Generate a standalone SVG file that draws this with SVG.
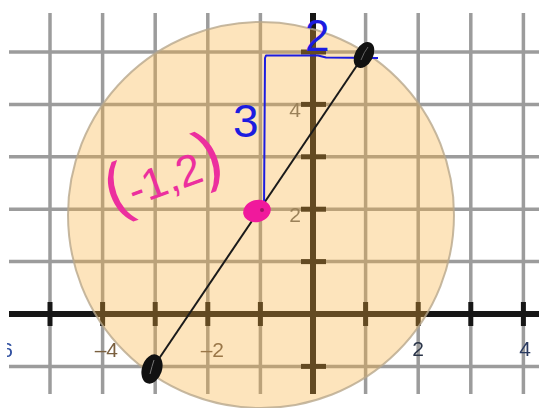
<svg xmlns="http://www.w3.org/2000/svg" width="539" height="408" viewBox="0 0 539 408">
  <defs>
    <clipPath id="leftclip"><rect x="7" y="330" width="20" height="40"/></clipPath>
    <filter id="soft" x="-5%" y="-5%" width="110%" height="110%"><feGaussianBlur stdDeviation="0.6"/></filter>
  </defs>
  <style>
    .grid { stroke: #9c9c9c; stroke-width: 3.5; fill: none; }
    .axis { stroke: #141414; stroke-width: 6; fill: none; }
    .tick { stroke: #141414; stroke-width: 5; }
    .lab { font-family: "Liberation Sans", Arial, sans-serif; font-size: 21px; }
    .hand { font-family: "Liberation Sans", Arial, sans-serif; }
  </style>
  <rect x="0" y="0" width="539" height="408" fill="#ffffff"/>

  <g id="grid" filter="url(#soft)">
    <g class="grid">
      <line x1="50" y1="13" x2="50" y2="394"/>
      <line x1="102.6" y1="13" x2="102.6" y2="394"/>
      <line x1="155.2" y1="13" x2="155.2" y2="394"/>
      <line x1="207.8" y1="13" x2="207.8" y2="394"/>
      <line x1="260.4" y1="13" x2="260.4" y2="394"/>
      <line x1="365.6" y1="13" x2="365.6" y2="394"/>
      <line x1="418.2" y1="13" x2="418.2" y2="394"/>
      <line x1="470.8" y1="13" x2="470.8" y2="394"/>
      <line x1="523.4" y1="13" x2="523.4" y2="394"/>
      <line x1="9" y1="52" x2="539" y2="52"/>
      <line x1="9" y1="104.4" x2="539" y2="104.4"/>
      <line x1="9" y1="156.8" x2="539" y2="156.8"/>
      <line x1="9" y1="209.2" x2="539" y2="209.2"/>
      <line x1="9" y1="261.6" x2="539" y2="261.6"/>
      <line x1="9" y1="366.4" x2="539" y2="366.4"/>
    </g>
    <g id="axes">
      <line class="axis" x1="9" y1="314" x2="539" y2="314"/>
      <line class="axis" x1="313" y1="13" x2="313" y2="394" stroke-width="7"/>
      <g class="tick">
        <line x1="50" y1="302" x2="50" y2="326"/>
        <line x1="102.6" y1="302" x2="102.6" y2="326"/>
        <line x1="155.2" y1="302" x2="155.2" y2="326"/>
        <line x1="207.8" y1="302" x2="207.8" y2="326"/>
        <line x1="260.4" y1="302" x2="260.4" y2="326"/>
        <line x1="365.6" y1="302" x2="365.6" y2="326"/>
        <line x1="418.2" y1="302" x2="418.2" y2="326"/>
        <line x1="470.8" y1="302" x2="470.8" y2="326"/>
        <line x1="523.4" y1="302" x2="523.4" y2="326"/>
        <line x1="301" y1="52" x2="326" y2="52"/>
        <line x1="301" y1="104.4" x2="326" y2="104.4"/>
        <line x1="301" y1="156.8" x2="326" y2="156.8"/>
        <line x1="301" y1="209.2" x2="326" y2="209.2"/>
        <line x1="301" y1="261.6" x2="326" y2="261.6"/>
        <line x1="301" y1="366.4" x2="326" y2="366.4"/>
      </g>
    </g>
    <g id="axis-labels" class="lab">
      <text x="13" y="357" text-anchor="end" fill="#3050a0" clip-path="url(#leftclip)">6</text>
      <text x="118" y="357" text-anchor="end" fill="#7a6040">–4</text>
      <text x="224" y="357" text-anchor="end" fill="#6a5a50">–2</text>
      <text x="418" y="356" text-anchor="middle" fill="#2a3448">2</text>
      <text x="525" y="356" text-anchor="middle" fill="#2a3a60">4</text>
      <text x="295" y="117" text-anchor="middle" fill="#6a6a6a">4</text>
      <text x="295" y="222" text-anchor="middle" fill="#6a6a6a">2</text>
    </g>
  </g>

  <g id="circle">
    <circle cx="261" cy="215" r="193" fill="rgb(250,176,59)" fill-opacity="0.34" stroke="#b8a88c" stroke-width="2" stroke-opacity="0.8"/>
  </g>

  <g id="connectors">
    <line id="diameter" x1="152" y1="369" x2="364" y2="55" stroke="#1a1a1a" stroke-width="2"/>
    <polyline id="legs" points="378,58 326,57.5 318,55.5 266,55.5 265,58 264,210" fill="none" stroke="#1c1ce0" stroke-width="2" stroke-linejoin="round"/>
  </g>

  <g id="center-point">
    <ellipse cx="257" cy="211" rx="14" ry="11" transform="rotate(-15 257 211)" fill="#f0199c"/>
    <circle cx="262" cy="210" r="2" fill="#6a1040" opacity="0.6"/>
  </g>

  <g id="endpoint-top">
    <ellipse cx="364" cy="55" rx="9" ry="14" transform="rotate(28 364 55)" fill="#111"/>
    <path d="M361 60 Q364 52 368 47" stroke="#666" stroke-width="1" fill="none"/>
  </g>

  <g id="endpoint-bottom">
    <ellipse cx="152" cy="369" rx="10" ry="15" transform="rotate(18 152 369)" fill="#111"/>
    <path d="M150 374 Q152 366 154 360" stroke="#777" stroke-width="1" fill="none"/>
  </g>

  <g id="annotations" class="hand">
    <text x="305" y="51" font-size="44" fill="#1c1ce0">2</text>
    <text x="233" y="137" font-size="46" fill="#1c1ce0">3</text>
    <text x="113" y="214" fill="#ec2f9e" transform="rotate(-20 113 214)"><tspan font-size="68">(</tspan><tspan font-size="44">-1,2</tspan><tspan font-size="68">)</tspan></text>
  </g>
</svg>
